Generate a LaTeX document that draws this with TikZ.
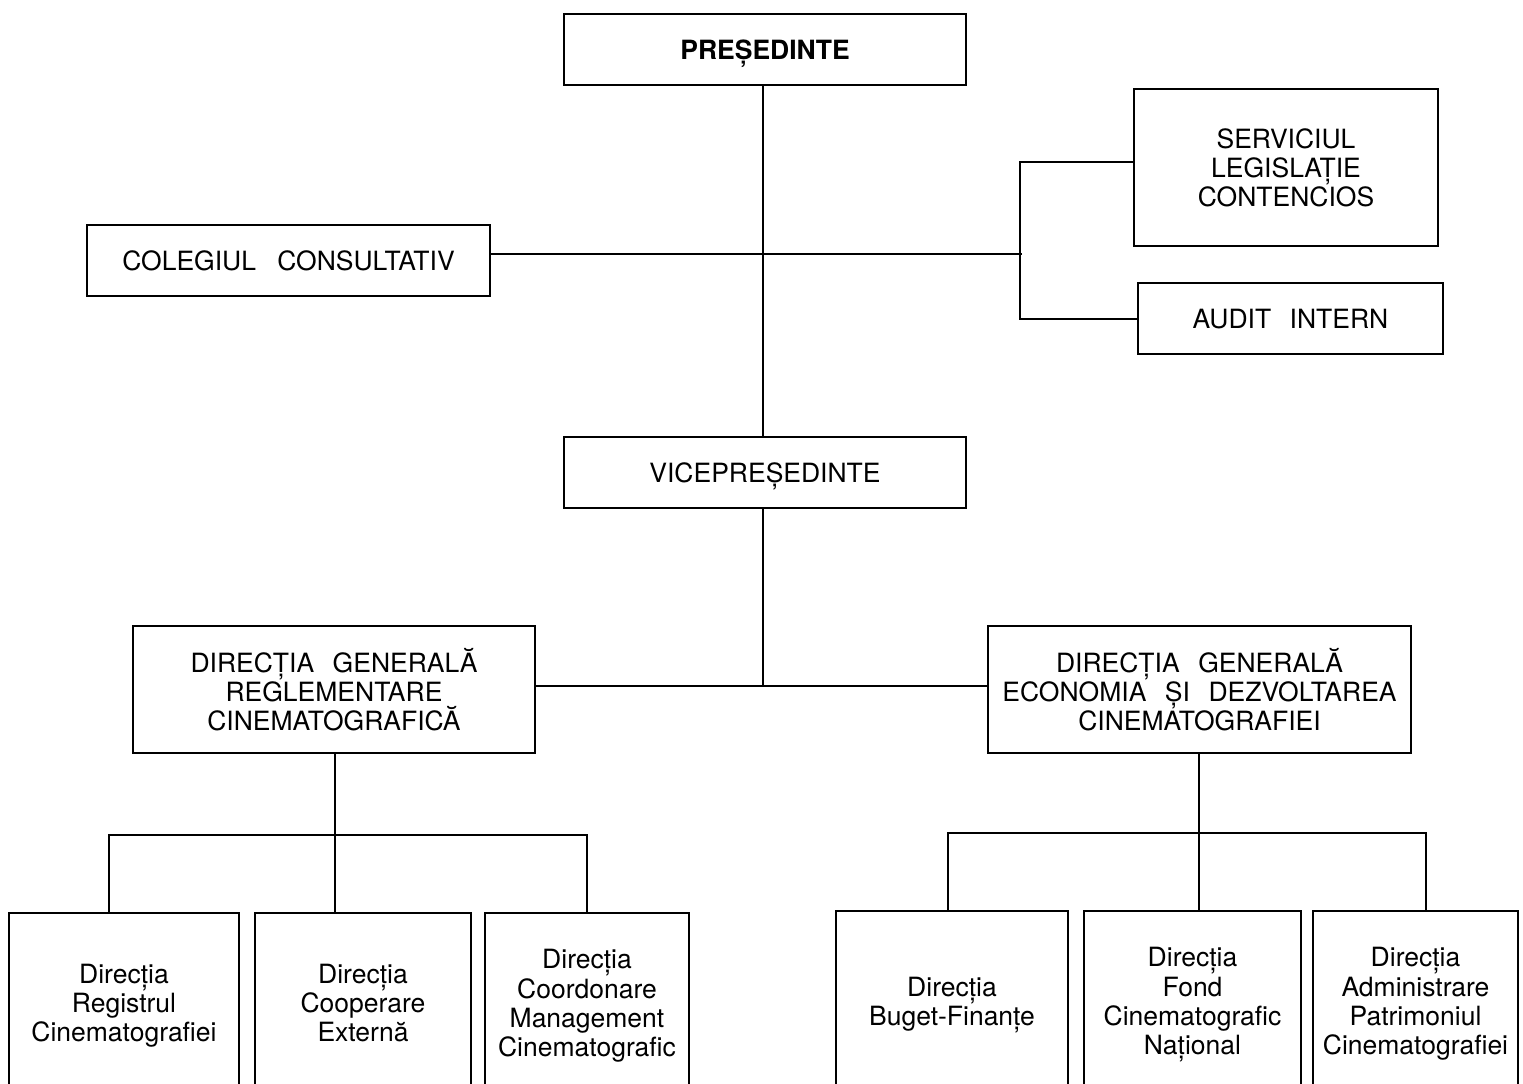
\documentclass[tikz,border=0pt]{standalone}
\usepackage{fontspec}
\setmainfont{TeX Gyre Heros}
\newcommand{\gp}{\hspace{0.7em}}
\begin{document}
\begin{tikzpicture}[x=1pt,y=-1pt,
  box/.style={draw, line width=1.6pt, inner sep=0pt, align=center, text depth=0pt,
    font=\fontsize{26.5}{29.3}\selectfont},
  conn/.style={line width=1.6pt}]
\useasboundingbox (0,0) rectangle (1523,1084);
\clip (0,0) rectangle (1523,1084);
% boxes
\node[box, minimum width=402pt, minimum height=71pt, font=\bfseries\fontsize{26.5}{29.3}\selectfont] (pres) at (765,49.5) {PREȘEDINTE};
\node[box, minimum width=304pt, minimum height=157pt] (serv) at (1286,167.5) {SERVICIUL\\LEGISLAȚIE\\CONTENCIOS};
\node[box, minimum width=403pt, minimum height=71pt] (coleg) at (288.5,260.5) {COLEGIUL\hspace{0.8em}CONSULTATIV};
\node[box, minimum width=305pt, minimum height=71pt] (audit) at (1290.5,318.5) {AUDIT\gp INTERN};
\node[box, minimum width=402pt, minimum height=71pt] (vice) at (765,472.5) {VICEPREȘEDINTE};
\node[box, minimum width=402pt, minimum height=127pt] (dgl) at (334,689.5) {DIRECȚIA\gp GENERALĂ\\REGLEMENTARE\\CINEMATOGRAFICĂ};
\node[box, minimum width=423pt, minimum height=127pt] (dgr) at (1199.5,689.5) {DIRECȚIA\gp GENERALĂ\\ECONOMIA\gp ȘI\gp DEZVOLTAREA\\CINEMATOGRAFIEI};
% bottom boxes
\node[box, minimum width=230pt, minimum height=180pt] (b1) at (124,1003) {Direcția\\Registrul\\Cinematografiei};
\node[box, minimum width=216pt, minimum height=180pt] (b2) at (363,1003) {Direcția\\Cooperare\\Externă};
\node[box, minimum width=204pt, minimum height=180pt] (b3) at (587,1003) {Direcția\\Coordonare\\Management\\Cinematografic};
\node[box, minimum width=232pt, minimum height=180pt] (b4) at (952,1001) {Direcția\\Buget-Finanțe};
\node[box, minimum width=217pt, minimum height=180pt] (b5) at (1192.5,1001) {Direcția\\Fond\\Cinematografic\\Național};
\node[box, minimum width=205pt, minimum height=180pt] (b6) at (1415.5,1001) {Direcția\\Administrare\\Patrimoniul\\Cinematografiei};
% junction coordinates
\coordinate (jc) at (1022,254);
\coordinate (rt) at (1020,162);
\coordinate (rb) at (1020,319);
\coordinate (vj) at (763,686);
\coordinate (lh) at (335,835);
\coordinate (lhl) at (108,835);
\coordinate (lhr) at (588,835);
\coordinate (l1) at (109,835);
\coordinate (l3) at (587,835);
\coordinate (rh) at (1199,833);
\coordinate (rhl) at (947,833);
\coordinate (rhr) at (1427,833);
\coordinate (r1) at (948,833);
\coordinate (r3) at (1426,833);
% connectors
\draw[conn] (pres.south -| vj) -- (vice.north -| vj);
\draw[conn] (coleg.east |- jc) -- (jc);
\draw[conn] (serv.west |- rt) -- (rt) -- (rb) -- (audit.west |- rb);
\draw[conn] (vice.south -| vj) -- (vj);
\draw[conn] (dgl.east |- vj) -- (dgr.west |- vj);
\draw[conn] (dgl.south -| lh) -- (lh);
\draw[conn] (lhl) -- (lhr);
\draw[conn] (l1) -- (l1 |- b1.north);
\draw[conn] (lh) -- (lh |- b2.north);
\draw[conn] (l3) -- (l3 |- b3.north);
\draw[conn] (dgr.south -| rh) -- (rh);
\draw[conn] (rhl) -- (rhr);
\draw[conn] (r1) -- (r1 |- b4.north);
\draw[conn] (rh) -- (rh |- b5.north);
\draw[conn] (r3) -- (r3 |- b6.north);
\end{tikzpicture}
\end{document}
